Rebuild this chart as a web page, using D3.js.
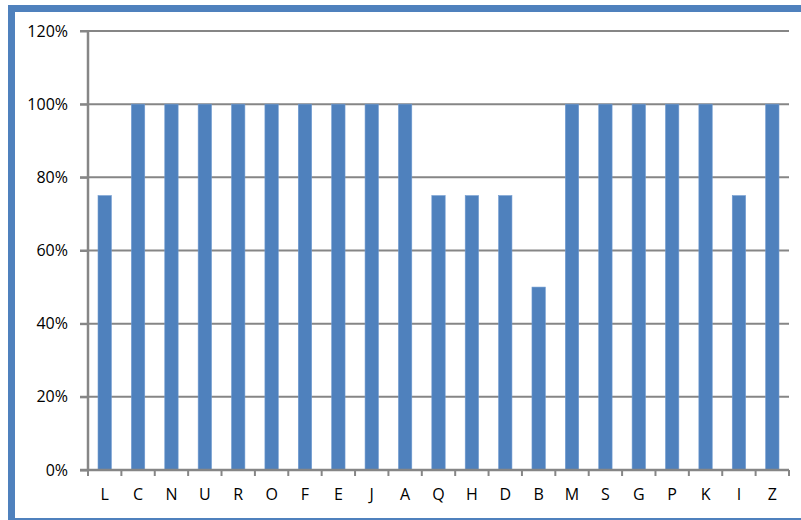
<!DOCTYPE html>
<html><head><meta charset="utf-8">
<script src="https://cdn.jsdelivr.net/npm/d3@7"></script>
<style>body{margin:0;background:#fff}svg{display:block}</style>
</head><body>
<svg id="c" width="801" height="520"></svg>
<script>
const categories = ["L","C","N","U","R","O","F","E","J","A","Q","H","D","B","M","S","G","P","K","I","Z"];
const values = [0.75,1,1,1,1,1,1,1,1,1,0.75,0.75,0.75,0.5,1,1,1,1,1,0.75,1];
const yTicks = [0,0.2,0.4,0.6,0.8,1.0,1.2];

(function(){
const svg = d3.select("#c");
const mL = 88, mR = 789, mT = 31, mB = 470;
const font = "'Open Sans', sans-serif";

// frame
svg.append("rect").attr("x",11.5).attr("y",8.5).attr("width",820).attr("height",513)
  .attr("fill","#fff").attr("stroke","#4f81bd").attr("stroke-width",7);

const x = d3.scaleBand().domain(categories).range([mL,mR]).paddingInner(0.6).paddingOuter(0.3);
const xb = d3.scaleBand().domain(categories).range([mL,mR]);
const y = d3.scaleLinear().domain([0,1.2]).range([mB,mT]);

// gridlines
svg.append("g").selectAll("line").data(yTicks.slice(1)).join("line")
  .attr("x1",mL-8).attr("x2",mR).attr("y1",d=>y(d)).attr("y2",d=>y(d))
  .attr("stroke","#868686").attr("stroke-width",2);

// bars
svg.append("g").selectAll("rect").data(values).join("rect")
  .attr("x",(d,i)=>x(categories[i])).attr("width",x.bandwidth())
  .attr("y",d=>y(d)).attr("height",d=>y(0)-y(d))
  .attr("fill","#4f81bd").attr("stroke","#6f9ad0").attr("stroke-width",0.6);

// y axis
const ya = svg.append("g").attr("transform",`translate(${mL},0)`)
  .call(d3.axisLeft(y).tickValues(yTicks).tickFormat(d3.format(".0%")).tickSize(8).tickPadding(12));
ya.select(".domain").attr("stroke","#868686").attr("stroke-width",2.5).attr("d",`M0,${mT}V${mB}`);
ya.selectAll(".tick line").attr("stroke","#868686").attr("stroke-width",2);
ya.selectAll("text").attr("font-family",font).attr("font-size",16).attr("fill","#000");

// x axis
const xa = svg.append("g").attr("transform",`translate(0,${mB})`)
  .call(d3.axisBottom(xb).tickSize(0).tickPadding(19));
xa.select(".domain").attr("stroke","#868686").attr("stroke-width",2.5).attr("d",`M${mL-8},0H${mR}`);
xa.selectAll("text").attr("font-family",font).attr("font-size",16).attr("fill","#000");
// boundary ticks
svg.append("g").selectAll("line").data(d3.range(categories.length+1)).join("line")
  .attr("x1",i=>mL+i*xb.step()).attr("x2",i=>mL+i*xb.step())
  .attr("y1",mB).attr("y2",mB+6).attr("stroke","#868686").attr("stroke-width",2);
})();
</script>
</body></html>
